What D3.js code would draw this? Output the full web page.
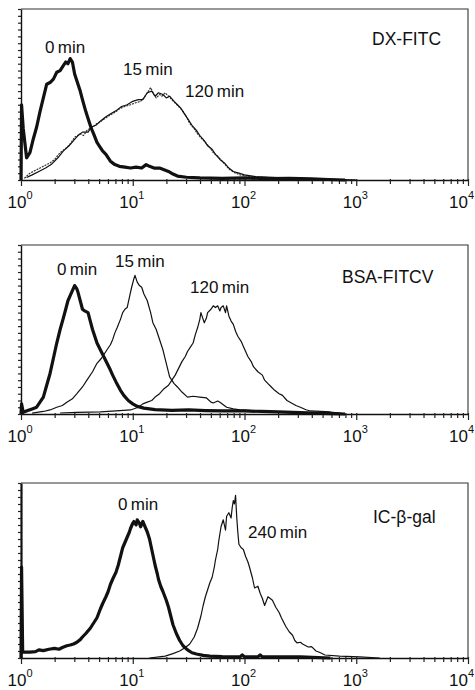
<!DOCTYPE html>
<html><head><meta charset="utf-8">
<script src="https://cdn.jsdelivr.net/npm/d3@7"></script>
<style>body{margin:0;background:#fff}svg{display:block}</style>
</head><body>
<script>
// ---- data: [log10(fluorescence), relative cell count (% of panel height)] ----
const decadeExponents = [0, 1, 2, 3, 4];
const panelNames = ["DX-FITC", "BSA-FITCV", "IC-\u03b2-gal"];
const panel1Labels = ["0\u2009min", "15\u2009min", "120\u2009min"];
const panel2Labels = ["0\u2009min", "15\u2009min", "120\u2009min"];
const panel3Labels = ["0\u2009min", "240\u2009min"];

const dx0min = [[0,0],[0.005,44],[0.02,30],[0.05,13],[0.08,16],[0.11,24],[0.14,31],[0.17,40],[0.20,48],[0.23,56],[0.26,57],[0.29,59],[0.32,63],[0.35,64],[0.38,67],[0.40,69],[0.42,68],[0.44,71],[0.46,69],[0.48,62],[0.51,56],[0.53,52],[0.55,47],[0.58,40],[0.60,36],[0.63,30],[0.65,27],[0.68,22],[0.70,20],[0.73,17],[0.76,15],[0.80,11],[0.84,9],[0.88,8],[0.93,7.5],[0.98,7],[1.03,7.5],[1.08,7],[1.12,9],[1.15,8],[1.19,7],[1.24,7],[1.28,6],[1.32,5],[1.36,3.5],[1.40,2.3],[1.48,1.6],[1.6,1.2],[1.8,1],[2.0,1.2],[2.2,0.8],[2.4,1],[2.6,0.6],[2.75,0.3],[2.9,0]];
const dx15min = [[0.03,1],[0.08,4],[0.14,6],[0.20,8],[0.26,10],[0.30,12],[0.35,16],[0.41,19],[0.45,22],[0.48,25],[0.53,27],[0.56,26],[0.59,29],[0.64,31],[0.68,33],[0.71,34],[0.75,36],[0.80,38],[0.85,40],[0.89,42],[0.93,43],[0.98,44],[1.02,45],[1.07,46],[1.10,48],[1.12,50],[1.16,54],[1.19,50],[1.21,48],[1.24,50],[1.26,49],[1.29,51],[1.32,49],[1.35,47],[1.38,45],[1.41,43],[1.44,41],[1.48,37],[1.51,33],[1.55,30],[1.58,27],[1.62,24],[1.65,22],[1.69,19],[1.72,16],[1.76,14],[1.80,11],[1.84,8],[1.87,6],[1.92,4],[1.96,3],[2.05,2],[2.2,1.5],[2.35,1],[2.6,0.6],[2.8,0.3],[3.0,0]];
const dx120min = [[0.05,1.5],[0.10,3],[0.16,5],[0.22,7],[0.27,9],[0.33,13],[0.38,17],[0.43,20],[0.47,23],[0.51,26],[0.55,28],[0.60,28],[0.63,31],[0.67,32],[0.72,35],[0.76,37],[0.81,39],[0.86,41],[0.90,43],[0.95,44],[1.00,46],[1.05,47],[1.09,47],[1.13,51],[1.17,52],[1.20,49],[1.23,51],[1.27,50],[1.30,48],[1.33,49],[1.37,46],[1.40,44],[1.43,42],[1.46,39],[1.50,35],[1.53,32],[1.57,29],[1.60,26],[1.64,23],[1.67,20],[1.71,18],[1.74,15],[1.78,12],[1.82,10],[1.86,7],[1.90,5],[1.95,4],[2.0,3],[2.1,2],[2.25,1.5],[2.4,1],[2.7,0.5],[3.0,0]];

const bsa0min = [[0,0],[0.005,6],[0.02,1],[0.06,2],[0.10,3],[0.14,4],[0.17,7],[0.20,10],[0.23,17],[0.26,24],[0.29,33],[0.32,42],[0.35,50],[0.38,57],[0.40,62],[0.42,67],[0.44,70],[0.46,73],[0.48,76],[0.50,74],[0.51,72],[0.53,67],[0.55,62],[0.57,61],[0.60,60],[0.62,55],[0.64,50],[0.66,46],[0.68,42],[0.71,38],[0.74,34],[0.77,30],[0.80,26],[0.82,23],[0.85,19],[0.89,14],[0.92,11],[0.96,8],[1.00,6],[1.04,4.5],[1.10,3.5],[1.2,2.6],[1.35,2.2],[1.5,2.4],[1.65,2],[1.8,1.8],[2.0,1.8],[2.15,1.5],[2.3,1.2],[2.5,0.8],[2.7,0.4],[2.9,0]];
const bsa15min = [[0.10,0.5],[0.2,1.5],[0.26,2.4],[0.32,4],[0.37,5],[0.41,7],[0.46,9],[0.50,12],[0.55,16],[0.59,20],[0.64,25],[0.68,30],[0.72,33],[0.77,38],[0.80,41],[0.82,44],[0.84,48],[0.86,51],[0.89,56],[0.91,60],[0.93,62],[0.95,63],[0.97,69],[0.99,75],[1.01,80],[1.02,82],[1.04,78],[1.06,76],[1.08,75],[1.10,71],[1.13,67],[1.16,60],[1.18,54],[1.21,50],[1.23,46],[1.25,42],[1.27,38],[1.30,30],[1.33,22],[1.37,18],[1.40,16],[1.44,13],[1.49,10],[1.54,10.5],[1.60,10],[1.66,9.5],[1.70,7],[1.72,6.5],[1.76,7.7],[1.78,7],[1.84,4],[1.90,3],[1.96,2.4],[2.1,1.8],[2.23,1.2],[2.5,0.6],[2.77,0]];
const bsa120min = [[0.35,0.6],[0.5,1],[0.71,1.2],[0.85,1.8],[0.98,2.4],[1.05,4],[1.09,6],[1.13,7],[1.17,8],[1.20,10],[1.24,12],[1.28,15],[1.32,17],[1.35,20],[1.38,23],[1.41,27],[1.44,31],[1.47,34],[1.49,37],[1.52,40],[1.54,42],[1.56,47],[1.58,51],[1.60,56],[1.61,60],[1.63,56],[1.64,54],[1.66,57],[1.67,60],[1.70,62],[1.72,64],[1.74,63],[1.76,64],[1.78,61],[1.79,63],[1.81,64],[1.83,60],[1.84,64],[1.86,58],[1.88,55],[1.90,53],[1.92,49],[1.94,46],[1.97,43],[1.99,40],[2.01,37],[2.03,34],[2.06,31],[2.08,28],[2.12,25],[2.16,23],[2.18,20],[2.21,18],[2.24,16],[2.27,14],[2.31,12],[2.34,11],[2.38,8],[2.42,6.5],[2.46,5],[2.50,4],[2.55,2.5],[2.59,1.8],[2.68,1.5],[2.77,1.2],[2.85,0.6],[2.90,0]];

const ic0min = [[0,0],[0.005,52],[0.015,3.4],[0.08,3.4],[0.13,3.6],[0.16,4.6],[0.20,4.2],[0.25,5],[0.30,5.5],[0.34,5],[0.37,6],[0.41,7],[0.44,7.4],[0.47,8],[0.50,9],[0.53,10.5],[0.55,12],[0.58,14],[0.62,17],[0.65,20],[0.68,23],[0.71,28],[0.73,31],[0.76,35],[0.78,38],[0.80,42],[0.82,45],[0.85,49],[0.87,53],[0.89,58],[0.91,63],[0.93,66],[0.95,69],[0.97,72],[0.98,74],[1.00,77],[1.01,78],[1.03,76],[1.04,79],[1.06,77],[1.07,75],[1.09,78],[1.11,75],[1.13,72],[1.15,68],[1.16,65],[1.18,59],[1.20,53],[1.22,48],[1.23,45],[1.25,41],[1.27,38],[1.30,33],[1.32,29],[1.34,24],[1.36,19],[1.39,14],[1.42,10],[1.45,7],[1.49,4.6],[1.53,3],[1.57,2.3],[1.63,1.5],[1.69,1.1],[1.80,0.8],[1.96,0.6],[1.98,1.8],[2.0,0.6],[2.12,0.6],[2.14,1.8],[2.16,0.6],[2.5,0.6],[2.77,0]];
const ic240min = [[1.15,0],[1.29,1.1],[1.36,2.5],[1.42,4],[1.47,6],[1.51,8],[1.55,12],[1.58,17],[1.61,24],[1.63,30],[1.65,35],[1.67,39],[1.69,43],[1.71,46],[1.73,52],[1.74,56],[1.76,62],[1.77,67],[1.78,71],[1.79,75],[1.81,79],[1.83,73],[1.84,81],[1.86,83],[1.88,80],[1.89,86],[1.90,90],[1.91,88],[1.92,93],[1.93,81],[1.94,72],[1.95,65],[1.97,63],[1.99,62],[2.01,58],[2.03,55],[2.04,53],[2.07,46],[2.09,40],[2.12,41],[2.14,37],[2.16,34],[2.18,30],[2.21,35],[2.23,34],[2.25,33],[2.28,29],[2.31,26],[2.33,23],[2.37,18],[2.40,15],[2.43,13],[2.45,10],[2.47,8.6],[2.50,9],[2.52,8],[2.57,6.3],[2.60,6.5],[2.64,4],[2.68,3],[2.72,1.7],[2.85,1.1],[3.03,0.6],[3.21,0]];

// ---- layout ----
const W = 475, H = 690, left = 21, right = 468;
const svg = d3.select("body").append("svg").attr("width", W).attr("height", H);
const font = "'Liberation Sans', Arial, Helvetica, sans-serif";
const x = d3.scaleLog().domain([1, 1e4]).range([left, right]);
const minorTicks = [];
decadeExponents.slice(0, -1).forEach(e => { for (let k = 1; k < 10; k++) minorTicks.push(k * Math.pow(10, e)); });
minorTicks.push(1e4);
const isDecade = d => Math.abs(Math.log10(d) - Math.round(Math.log10(d))) < 1e-9;

const panels = [
  { top: 9, bottom: 180, name: panelNames[0], nameX: 372, nameY: 45, axisW: 1.4,
    series: [
      { data: dx15min, w: 1.2, color: "#333", dash: "2,1" },
      { data: dx120min, w: 1.2, color: "#111", dash: null },
      { data: dx0min, w: 3.2, color: "#111", dash: null }],
    labels: [[panel1Labels[0], 45, 53], [panel1Labels[1], 123, 75], [panel1Labels[2], 185, 97]] },
  { top: 245, bottom: 414, name: panelNames[1], nameX: 342, nameY: 283, axisW: 1.4,
    series: [
      { data: bsa15min, w: 1.2, color: "#111", dash: null },
      { data: bsa120min, w: 1.2, color: "#111", dash: null },
      { data: bsa0min, w: 3.2, color: "#111", dash: null }],
    labels: [[panel2Labels[0], 57, 275], [panel2Labels[1], 115, 267], [panel2Labels[2], 190, 293]] },
  { top: 483, bottom: 658, name: panelNames[2], nameX: 373, nameY: 523, axisW: 2.2,
    series: [
      { data: ic240min, w: 1.2, color: "#111", dash: null },
      { data: ic0min, w: 3.2, color: "#111", dash: null }],
    labels: [[panel3Labels[0], 118, 510], [panel3Labels[1], 248, 538]] }
];

panels.forEach(p => {
  const g = svg.append("g");
  const y = d3.scaleLinear().domain([0, 100]).range([p.bottom, p.top]);
  // frame
  g.append("path").attr("d", `M${left},${p.top}H${right}V${p.bottom}`)
    .attr("fill", "none").attr("stroke", "#333").attr("stroke-width", 1.1);
  // left axis
  const ya = g.append("g").attr("transform", `translate(${left},0)`)
    .call(d3.axisLeft(y).tickValues(d3.range(0, 101, 4)).tickSize(3).tickSizeOuter(0).tickFormat(""));
  ya.select(".domain").attr("stroke", "#111").attr("stroke-width", p.axisW);
  ya.selectAll(".tick line").attr("stroke", "#222").attr("stroke-width", 1.2);
  // bottom axis
  const xa = g.append("g").attr("transform", `translate(0,${p.bottom})`)
    .call(d3.axisBottom(x).tickValues(minorTicks).tickSizeOuter(0).tickFormat(""));
  xa.select(".domain").attr("stroke", "#111").attr("stroke-width", 1.6);
  xa.selectAll(".tick line")
    .attr("y1", -1)
    .attr("y2", d => isDecade(d) ? 6 : 4)
    .attr("stroke", "#222").attr("stroke-width", 1.2);
  // tick labels 10^n
  decadeExponents.forEach((e, i) => {
    const last = i === decadeExponents.length - 1;
    const t = g.append("text")
      .attr("x", last ? W - 1 : x(Math.pow(10, e)) - 1)
      .attr("y", p.bottom + 28)
      .attr("text-anchor", last ? "end" : "middle").attr("font-family", font).attr("fill", "#111");
    t.append("tspan").attr("font-size", 17).text("10");
    t.append("tspan").attr("font-size", 11).attr("dy", -9).text(String(e));
  });
  // curves
  const line = d3.line().x(d => x(Math.pow(10, d[0]))).y(d => y(d[1]));
  p.series.forEach(s => {
    g.append("path").datum(s.data).attr("d", line).attr("fill", "none")
      .attr("stroke", s.color).attr("stroke-width", s.w)
      .attr("stroke-linejoin", "round").attr("stroke-dasharray", s.dash);
  });
  // annotations
  p.labels.forEach(([txt, lx, ly]) => {
    g.append("text").attr("x", lx).attr("y", ly).attr("font-family", font)
      .attr("font-size", 17).attr("fill", "#111").text(txt);
  });
  g.append("text").attr("x", p.nameX).attr("y", p.nameY).attr("font-family", font)
    .attr("font-size", 17.5).attr("fill", "#111").text(p.name);
});
</script>
</body></html>
